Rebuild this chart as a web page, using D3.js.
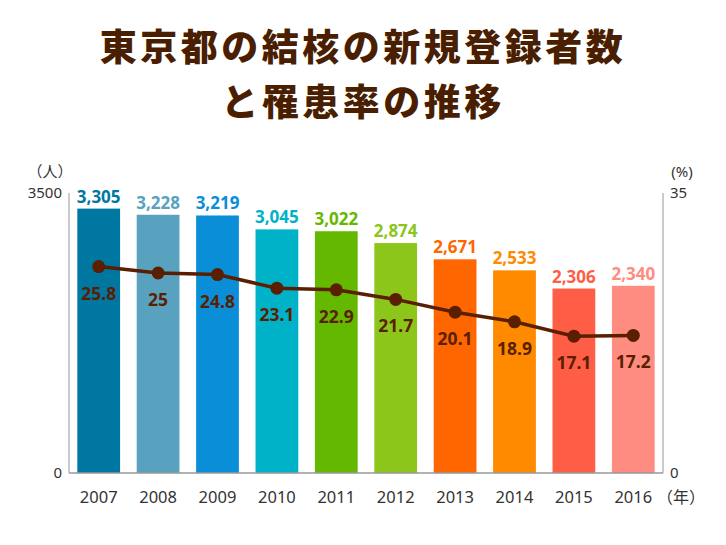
<!DOCTYPE html>
<html>
<head>
<meta charset="utf-8">
<script src="https://cdn.jsdelivr.net/npm/d3@7"></script>
<style>
  body { margin: 0; background: #fff; }
  text { font-family: "Noto Sans", "Noto Sans CJK JP", sans-serif; }
</style>
</head>
<body>
<div id="chart"></div>
<script>
// data
var years = ["2007", "2008", "2009", "2010", "2011", "2012", "2013", "2014", "2015", "2016"];
var patients = [3305, 3228, 3219, 3045, 3022, 2874, 2671, 2533, 2306, 2340];
var rates = [25.8, 25, 24.8, 23.1, 22.9, 21.7, 20.1, 18.9, 17.1, 17.2];
var barColors = ["#0077a0", "#58a2bf", "#0a8ed8", "#00b2c8", "#65b800", "#8cc61a", "#ff6600", "#ff8a00", "#ff5e46", "#ff8c80"];
var titleLines = ["東京都の結核の新規登録者数", "と罹患率の推移"];

var width = 726, height = 545;
var margin = {top: 193, right: 63, bottom: 72, left: 69};

var svg = d3.select("#chart").append("svg")
    .attr("width", width)
    .attr("height", height);

// title
svg.selectAll("text.title")
  .data(titleLines)
  .enter()
  .append("text")
  .attr("class", "title")
  .attr("x", width / 2)
  .attr("y", function(d, i){ return 61 + i * 55; })
  .attr("text-anchor", "middle")
  .attr("fill", "#4a1e00")
  .style("font-family", "'Noto Sans CJK JP', sans-serif")
  .style("font-size", "37px")
  .style("font-weight", 900)
  .style("letter-spacing", "3.5px")
  .text(function(d){ return d; });

var x = d3.scaleBand()
    .domain(years)
    .range([margin.left, width - margin.right])
    .paddingInner(0.28)
    .paddingOuter(0.14);

var yLeft = d3.scaleLinear().domain([0, 3500]).range([height - margin.bottom, margin.top]);
var yRight = d3.scaleLinear().domain([0, 35]).range([height - margin.bottom, margin.top]);

var y0 = yLeft(0);

// bars
svg.selectAll("rect.bar")
  .data(patients)
  .enter()
  .append("rect")
  .attr("class", "bar")
  .attr("x", function(d, i){ return x(years[i]); })
  .attr("y", function(d){ return yLeft(d); })
  .attr("width", x.bandwidth())
  .attr("height", function(d){ return y0 - yLeft(d); })
  .attr("fill", function(d, i){ return barColors[i]; });

// bar value labels
svg.selectAll("text.val")
  .data(patients)
  .enter()
  .append("text")
  .attr("class", "val")
  .attr("x", function(d, i){ return x(years[i]) + x.bandwidth() / 2; })
  .attr("y", function(d){ return yLeft(d) - 6; })
  .attr("text-anchor", "middle")
  .attr("fill", function(d, i){ return barColors[i]; })
  .style("font-size", "17px")
  .style("font-weight", 700)
  .text(function(d){ return d3.format(",")(d); });

// axes lines
var axisColor = "#b8b8b8";
svg.append("line")
  .attr("x1", margin.left).attr("x2", margin.left)
  .attr("y1", yLeft(3500)).attr("y2", y0)
  .attr("stroke", axisColor).attr("stroke-width", 1.5);
svg.append("line")
  .attr("x1", width - margin.right).attr("x2", width - margin.right)
  .attr("y1", yRight(35)).attr("y2", y0)
  .attr("stroke", axisColor).attr("stroke-width", 1.5);
svg.append("line")
  .attr("x1", margin.left).attr("x2", width - margin.right)
  .attr("y1", y0).attr("y2", y0)
  .attr("stroke", "#999").attr("stroke-width", 1.5);

// axis tick labels
var leftTicks = [0, 3500];
svg.selectAll("text.lt")
  .data(leftTicks)
  .enter()
  .append("text")
  .attr("class", "lt")
  .attr("x", margin.left - 7)
  .attr("y", function(d){ return yLeft(d) + 5; })
  .attr("text-anchor", "end")
  .attr("fill", "#333")
  .style("font-size", "15px")
  .text(function(d){ return d; });

var rightTicks = [0, 35];
svg.selectAll("text.rt")
  .data(rightTicks)
  .enter()
  .append("text")
  .attr("class", "rt")
  .attr("x", width - margin.right + 7)
  .attr("y", function(d){ return yRight(d) + 5; })
  .attr("fill", "#333")
  .style("font-size", "15px")
  .text(function(d){ return d; });

svg.append("text")
  .attr("x", 50).attr("y", 177)
  .attr("text-anchor", "middle")
  .attr("fill", "#333")
  .style("font-family", "'Noto Sans CJK JP', sans-serif")
  .style("font-size", "15px")
  .text("（人）");
svg.append("text")
  .attr("x", 682).attr("y", 177)
  .attr("text-anchor", "middle")
  .attr("fill", "#333")
  .style("font-size", "15px")
  .text("(%)");

// year labels
svg.selectAll("text.year")
  .data(years)
  .enter()
  .append("text")
  .attr("class", "year")
  .attr("x", function(d){ return x(d) + x.bandwidth() / 2; })
  .attr("y", y0 + 30)
  .attr("text-anchor", "middle")
  .attr("fill", "#333")
  .style("font-size", "16.5px")
  .text(function(d){ return d; });
svg.append("text")
  .attr("x", 681).attr("y", y0 + 30)
  .attr("text-anchor", "middle")
  .attr("fill", "#333")
  .style("font-family", "'Noto Sans CJK JP', sans-serif")
  .style("font-size", "16px")
  .text("（年）");

// rate line
var lineColor = "#5a1e00";
var line = d3.line()
  .x(function(d, i){ return x(years[i]) + x.bandwidth() / 2; })
  .y(function(d){ return yRight(d); });

svg.append("path")
  .datum(rates)
  .attr("d", line)
  .attr("fill", "none")
  .attr("stroke", lineColor)
  .attr("stroke-width", 3.5);

svg.selectAll("circle")
  .data(rates)
  .enter()
  .append("circle")
  .attr("cx", function(d, i){ return x(years[i]) + x.bandwidth() / 2; })
  .attr("cy", function(d){ return yRight(d); })
  .attr("r", 6.5)
  .style("fill", lineColor);

svg.selectAll("text.rate")
  .data(rates)
  .enter()
  .append("text")
  .attr("class", "rate")
  .attr("x", function(d, i){ return x(years[i]) + x.bandwidth() / 2; })
  .attr("y", function(d){ return yRight(d) + 33; })
  .attr("text-anchor", "middle")
  .attr("fill", lineColor)
  .style("font-size", "17.5px")
  .style("font-weight", 700)
  .text(function(d){ return d; });
</script>
</body>
</html>
